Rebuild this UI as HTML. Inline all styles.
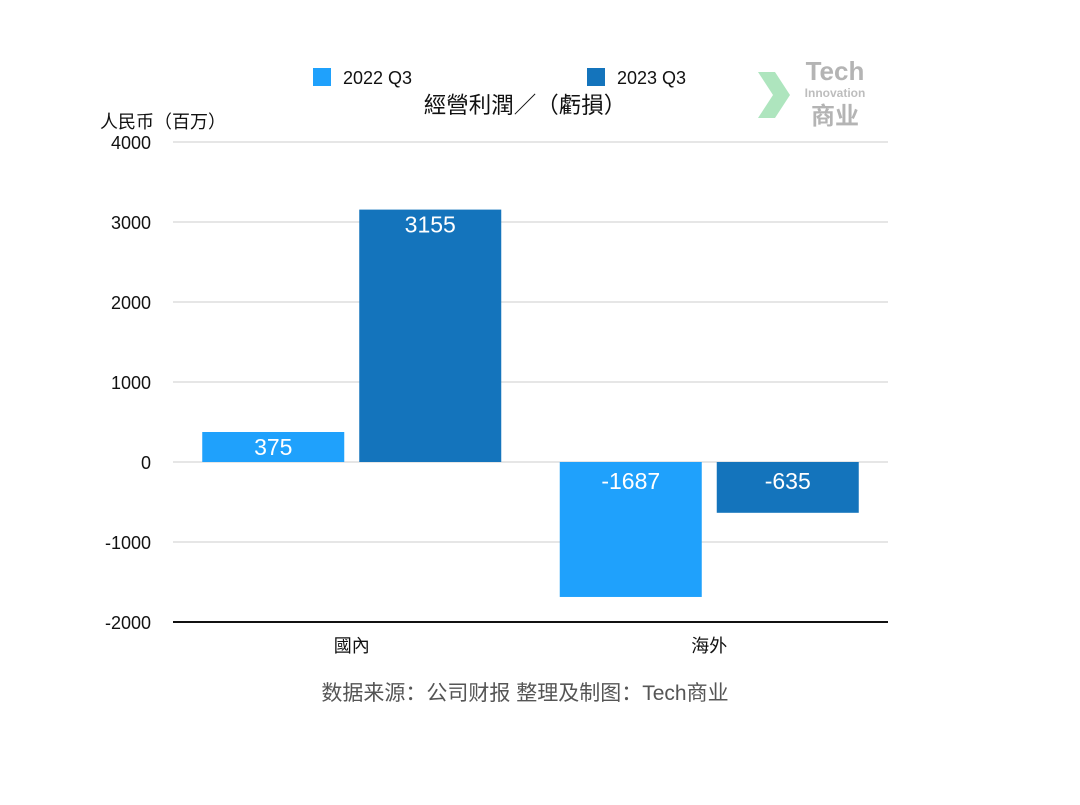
<!DOCTYPE html>
<html><head><meta charset="utf-8"><style>
body{margin:0;background:#fff;}
svg text{font-family:"Liberation Sans","Noto Sans CJK SC",sans-serif;}
</style></head><body>
<svg width="1080" height="800" viewBox="0 0 1080 800">
<g>
<rect x="313" y="68" width="18" height="18" fill="#1fa1fc"/>
<text x="343" y="84" font-size="18" fill="#111">2022 Q3</text>
<rect x="587" y="68" width="18" height="18" fill="#1474bc"/>
<text x="617" y="84" font-size="18" fill="#111">2023 Q3</text>
</g>
<text x="525" y="113" font-size="22.5" text-anchor="middle" fill="#111">經營利潤／（虧損）</text>
<text x="100" y="128" font-size="18" fill="#111">人民币（百万）</text>
<g opacity="0.55">
<path d="M758 72 L775 72 L790 95 L775 118 L758 118 L773 95 Z" fill="#6cd08a"/>
<text x="835" y="80" font-size="26" font-weight="bold" text-anchor="middle" fill="#777" font-family="Liberation Serif,serif">Tech</text>
<text x="835" y="97" font-size="12" font-weight="bold" text-anchor="middle" fill="#888">Innovation</text>
<text x="835" y="124" font-size="24" font-weight="bold" text-anchor="middle" fill="#777">商业</text>
</g>
<g id="grid"></g><g id="bars"></g>
<text x="525" y="700" font-size="21" text-anchor="middle" fill="#555">数据来源：公司财报 整理及制图：Tech商业</text>
</svg>
<script>
const categories=["國內","海外"];
const series2022=[375,-1687];
const series2023=[3155,-635];
const ticks=[4000,3000,2000,1000,0,-1000,-2000];
const NS="http://www.w3.org/2000/svg";
const x0=173,x1=888;
function y(v){return 462-v*0.08;}
function el(t,a,p){const e=document.createElementNS(NS,t);for(const k in a)e.setAttribute(k,a[k]);p.appendChild(e);return e;}
const g=document.getElementById('grid'),b=document.getElementById('bars');
ticks.forEach(t=>{
 const l=el('line',{x1:x0,x2:x1,y1:y(t),y2:y(t),stroke:t===-2000?'#111':'#ccc','stroke-width':t===-2000?2:1},g);
 
 
 const tx=el('text',{x:151,y:y(t)+7,'font-size':18,'text-anchor':'end',fill:'#111'},g);tx.textContent=t;
 
 
});
const band=(x1-x0)/categories.length;
categories.forEach((c,i)=>{
 const cx=x0+band*(i+0.5);
 [[series2022[i],'#1fa1fc',cx-149.5],[series2023[i],'#1474bc',cx+7.5]].forEach(([v,col,bx],j)=>{
  const top=Math.min(y(v),y(0)),h=Math.abs(y(v)-y(0));
  const r=el('rect',{x:bx,y:top,width:142,height:h,fill:col},b);
  
  
  const ly=v>=0?top+23:y(0)+27;
  const t=el('text',{x:bx+71,y:ly,'font-size':23,'text-anchor':'middle',fill:'#fff'},b);t.textContent=v;
  
  
 });
 const ct=el('text',{x:cx,y:652,'font-size':18,'text-anchor':'middle',fill:'#111'},b);ct.textContent=c;
 
 
});
</script>
</body></html>
